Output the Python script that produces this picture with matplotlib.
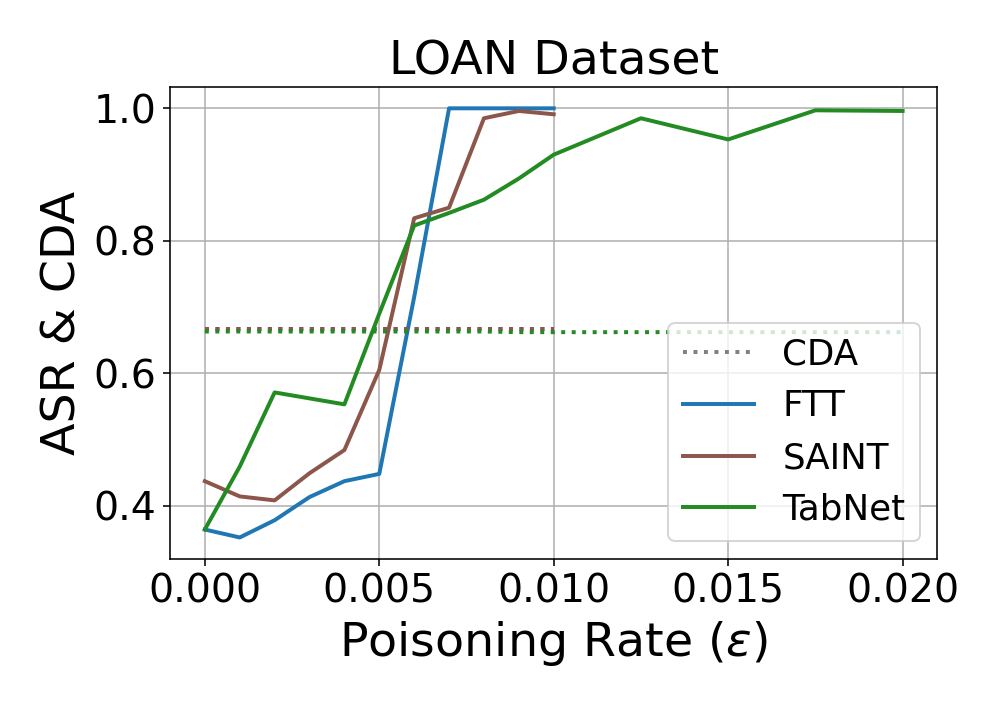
import matplotlib
matplotlib.use("Agg")
import matplotlib.pyplot as plt
from matplotlib.lines import Line2D


# --------------------------------
# Data
# --------------------------------

rates_short = [0.000, 0.001, 0.002, 0.003, 0.004, 0.005,
               0.006, 0.007, 0.008, 0.009, 0.010]
rates_long = rates_short + [0.0125, 0.015, 0.0175, 0.020]

ftt_asr = [0.364, 0.352, 0.378, 0.413, 0.437, 0.448,
           0.715, 1.000, 1.000, 1.000, 1.000]
saint_asr = [0.437, 0.414, 0.408, 0.449, 0.484, 0.605,
             0.834, 0.850, 0.985, 0.996, 0.991]
tabnet_asr = [0.364, 0.459, 0.571, 0.562, 0.553, 0.690,
              0.823, 0.842, 0.862, 0.894, 0.930,
              0.985, 0.953, 0.997, 0.996]

ftt_cda = [0.667] * len(rates_short)
saint_cda = [0.667] * len(rates_short)
tabnet_cda = [0.663, 0.663, 0.663, 0.663, 0.663, 0.663,
              0.663, 0.663, 0.663, 0.662, 0.662,
              0.662, 0.662, 0.662, 0.662]

models = ["FTT", "SAINT", "TabNet"]
colors = ["tab:blue", "tab:brown", "forestgreen"]


# --------------------------------
# Plot
# --------------------------------

fig, ax = plt.subplots(figsize=(7, 5), dpi=142.4)
fig.subplots_adjust(left=0.1705, right=0.9405, top=0.878, bottom=0.215)

series = [
    (rates_short, ftt_asr, ftt_cda),
    (rates_short, saint_asr, saint_cda),
    (rates_long, tabnet_asr, tabnet_cda),
]

for (x, asr, cda), name, c in zip(series, models, colors):
    ax.plot(x, asr, color=c, linewidth=2)
    ax.plot(x, cda, color=c, linestyle=":", linewidth=2)

ax.grid(True)
ax.set_yticks([0.4, 0.6, 0.8, 1.0])
ax.set_xticks([0.000, 0.005, 0.010, 0.015, 0.020])
ax.tick_params(labelsize=20)

ax.set_title("LOAN Dataset", fontsize=24)
ax.set_xlabel(r"Poisoning Rate ($\epsilon$)", fontsize=24)
ax.set_ylabel("ASR & CDA", fontsize=24)

handles = [Line2D([], [], color="gray", linestyle=":", linewidth=2)]
handles += [Line2D([], [], color=c, linewidth=2) for c in colors]
ax.legend(handles, ["CDA"] + models, loc="lower right", fontsize=18)

fig.savefig("out.png", dpi=142.4)
